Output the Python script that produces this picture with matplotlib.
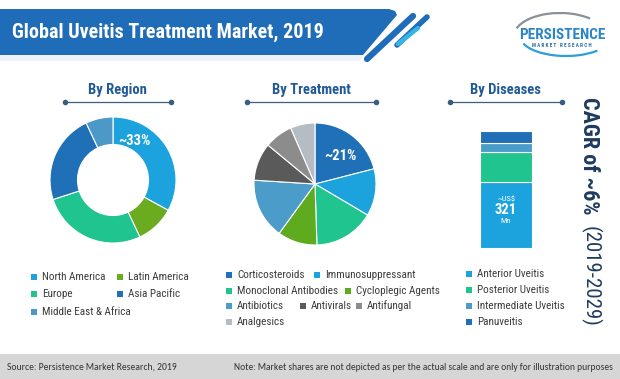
import matplotlib
matplotlib.use("Agg")
import matplotlib.pyplot as plt
from matplotlib.patches import Polygon, Rectangle, Arc

COND = ['Roboto Condensed', 'Barlow Condensed', 'DejaVu Sans']
FOOT = ['Carlito', 'Open Sans', 'DejaVu Sans']
plt.rcParams['font.family'] = COND

title = "Global Uveitis Treatment Market, 2019"

region_labels = ["North America", "Latin America", "Europe", "Asia Pacific", "Middle East & Africa"]
region_share = [33, 10, 27, 23, 7]
region_colors = ["#1ca3de", "#6aab1f", "#1fc48f", "#2070b8", "#4c98c6"]

treatment_labels = ["Corticosteroids", "Immunosuppressant", "Monoclonal Antibodies",
                    "Cycloplegic Agents", "Antibiotics", "Antivirals", "Antifungal", "Analgesics"]
treatment_share = [21, 12.5, 16, 10.5, 16, 10, 7.5, 6.5]
treatment_colors = ["#2070b8", "#1ca3de", "#1fc48f", "#5fab1f", "#4c9cc9", "#5a5a5a", "#8c8c8c", "#b4bcc4"]

disease_labels = ["Anterior Uveitis", "Posterior Uveitis", "Intermediate Uveitis", "Panuveitis"]
disease_share = [56, 26, 8, 10]
disease_colors = ["#1ca3de", "#1fc48f", "#4c9cc9", "#2070b8"]

market_size = "321"
cagr = "CAGR of ~6%"
cagr_period = "(2019-2029)"
source = "Source: Persistence Market Research, 2019"
note = "Note: Market shares are not depicted as per the actual scale and are only for illustration purposes"

W, H = 620, 379
fig = plt.figure(figsize=(W / 100, H / 100), dpi=100)
bg = fig.add_axes([0, 0, 1, 1])
bg.set_xlim(0, W)
bg.set_ylim(H, 0)
bg.axis('off')
bg.set_zorder(5)  # keep labels above the chart axes


def px_axes(x0, y0, x1, y1):
    # axes placed by pixel box (top-left origin)
    return fig.add_axes([x0 / W, 1 - y1 / H, (x1 - x0) / W, (y1 - y0) / H])


# banner
bg.add_patch(Polygon([(0, 55), (363, 55), (360, 61), (0, 61)], closed=True, color="#eef1f5", lw=0))
bg.add_patch(Polygon([(0, 9), (389, 9), (395, 11), (397, 15), (363, 55), (0, 55)],
                     closed=True, color="#1f6db8", lw=0))
bg.plot([413, 367], [16, 59], color="#1f6db8", lw=4.5, solid_capstyle='round')
bg.plot([427, 397], [17, 45], color="#1f6db8", lw=4, solid_capstyle='round')
bg.plot([418, 398], [28, 44], color="#35b5e5", lw=3.2, solid_capstyle='round')
bg.text(12, 32, title, color="white", fontsize=14.5, fontweight='bold', va='center')

# logo
bg.add_patch(Arc((560, 36), 92, 46, theta1=190, theta2=330, color="#8a9098", lw=1.6))
bg.add_patch(Arc((566, 36), 92, 40, theta1=25, theta2=170, color="#2a9fd8", lw=1.6))
bg.text(562, 35, "PERSISTENCE", color="#2a86c8", fontsize=11, fontweight='bold', ha='center', va='center')
bg.text(562, 45.5, "M A R K E T   R E S E A R C H", color="#2c6ca3", fontsize=3.8,
        fontweight='bold', ha='center', va='center')

# section headers
for cx, x0, x1, label in [(117, 65, 171, "By Region"), (311, 247, 376, "By Treatment"),
                          (505, 450, 562, "By Diseases")]:
    bg.text(cx, 90, label, ha='center', va='center', fontsize=10.5, fontweight='bold', color="#1f5a96")
    bg.plot([x0, x1], [102, 102], color="#3b5d7e", lw=0.9, marker='o', markersize=3)

# region donut
ax = px_axes(48, 115, 178, 245)
ax.pie(region_share, colors=region_colors, startangle=90, counterclock=False, radius=63 / 65,
       wedgeprops=dict(width=27.5 / 65, edgecolor='white', linewidth=0.8))
ax.set_xlim(-1, 1)
ax.set_ylim(-1, 1)
ax.set_aspect('equal')
ax.axis('off')
bg.text(134, 141, "~%d%%" % region_share[0], color="white", fontsize=10.5, fontweight='bold',
        ha='center', va='center')

# treatment pie
ax = px_axes(252, 121, 378, 247)
ax.pie(treatment_share, colors=treatment_colors, startangle=90, counterclock=False, radius=61 / 63,
       wedgeprops=dict(edgecolor='white', linewidth=0.8))
ax.set_xlim(-1, 1)
ax.set_ylim(-1, 1)
ax.set_aspect('equal')
ax.axis('off')
bg.text(340, 156, "~%d%%" % treatment_share[0], color="white", fontsize=10.5, fontweight='bold',
        ha='center', va='center')

# diseases stacked bar
ax = px_axes(480, 131, 532, 248)
bottom = 0
for v, c in zip(disease_share, disease_colors):
    ax.bar(0, v, bottom=bottom, width=1, color=c, edgecolor='white', linewidth=0.8)
    bottom += v
ax.set_xlim(-0.5, 0.5)
ax.set_ylim(0, bottom)
ax.axis('off')
bg.text(506, 199, "~US$", color="white", fontsize=6, ha='center', va='center')
bg.text(506, 210.5, market_size, color="white", fontsize=10.5, fontweight='bold', ha='center', va='center')
bg.text(506, 221, "Mn", color="white", fontsize=6, ha='center', va='center')


# legends
def legend(labels, colors, spots):
    for lab, col, (x, y) in zip(labels, colors, spots):
        bg.add_patch(Rectangle((x, y - 3), 6, 6, color=col, lw=0))
        bg.text(x + 11, y, lab, fontsize=8, color="#3c3c3c", va='center')


legend(region_labels, region_colors, [(31, 277), (117, 277), (31, 294), (117, 294), (31, 312)])
legend(treatment_labels, treatment_colors,
       [(226, 275), (314, 275), (226, 291), (345, 291), (226, 306), (300, 306), (356, 306), (226, 322)])
legend(disease_labels, disease_colors, [(466, 274), (466, 290), (466, 306), (466, 322)])

# CAGR
bg.text(583, 97, cagr, rotation=-90, rotation_mode='anchor', ha='left', va='baseline',
        fontsize=16, fontweight='bold', color="#1e3a5f")
bg.text(584, 226, cagr_period, rotation=-90, rotation_mode='anchor', ha='left', va='baseline',
        fontsize=15, color="#1e3a5f")

# footer
bg.add_patch(Rectangle((0, 354), W, H - 354, color="#d6d6d6", lw=0))
bg.text(7, 367, source, fontsize=6.9, color="#333333", va='center', family=FOOT)
bg.text(234, 367, note, fontsize=6.85, color="#333333", va='center', family=FOOT)

fig.savefig("out.png", dpi=100)
